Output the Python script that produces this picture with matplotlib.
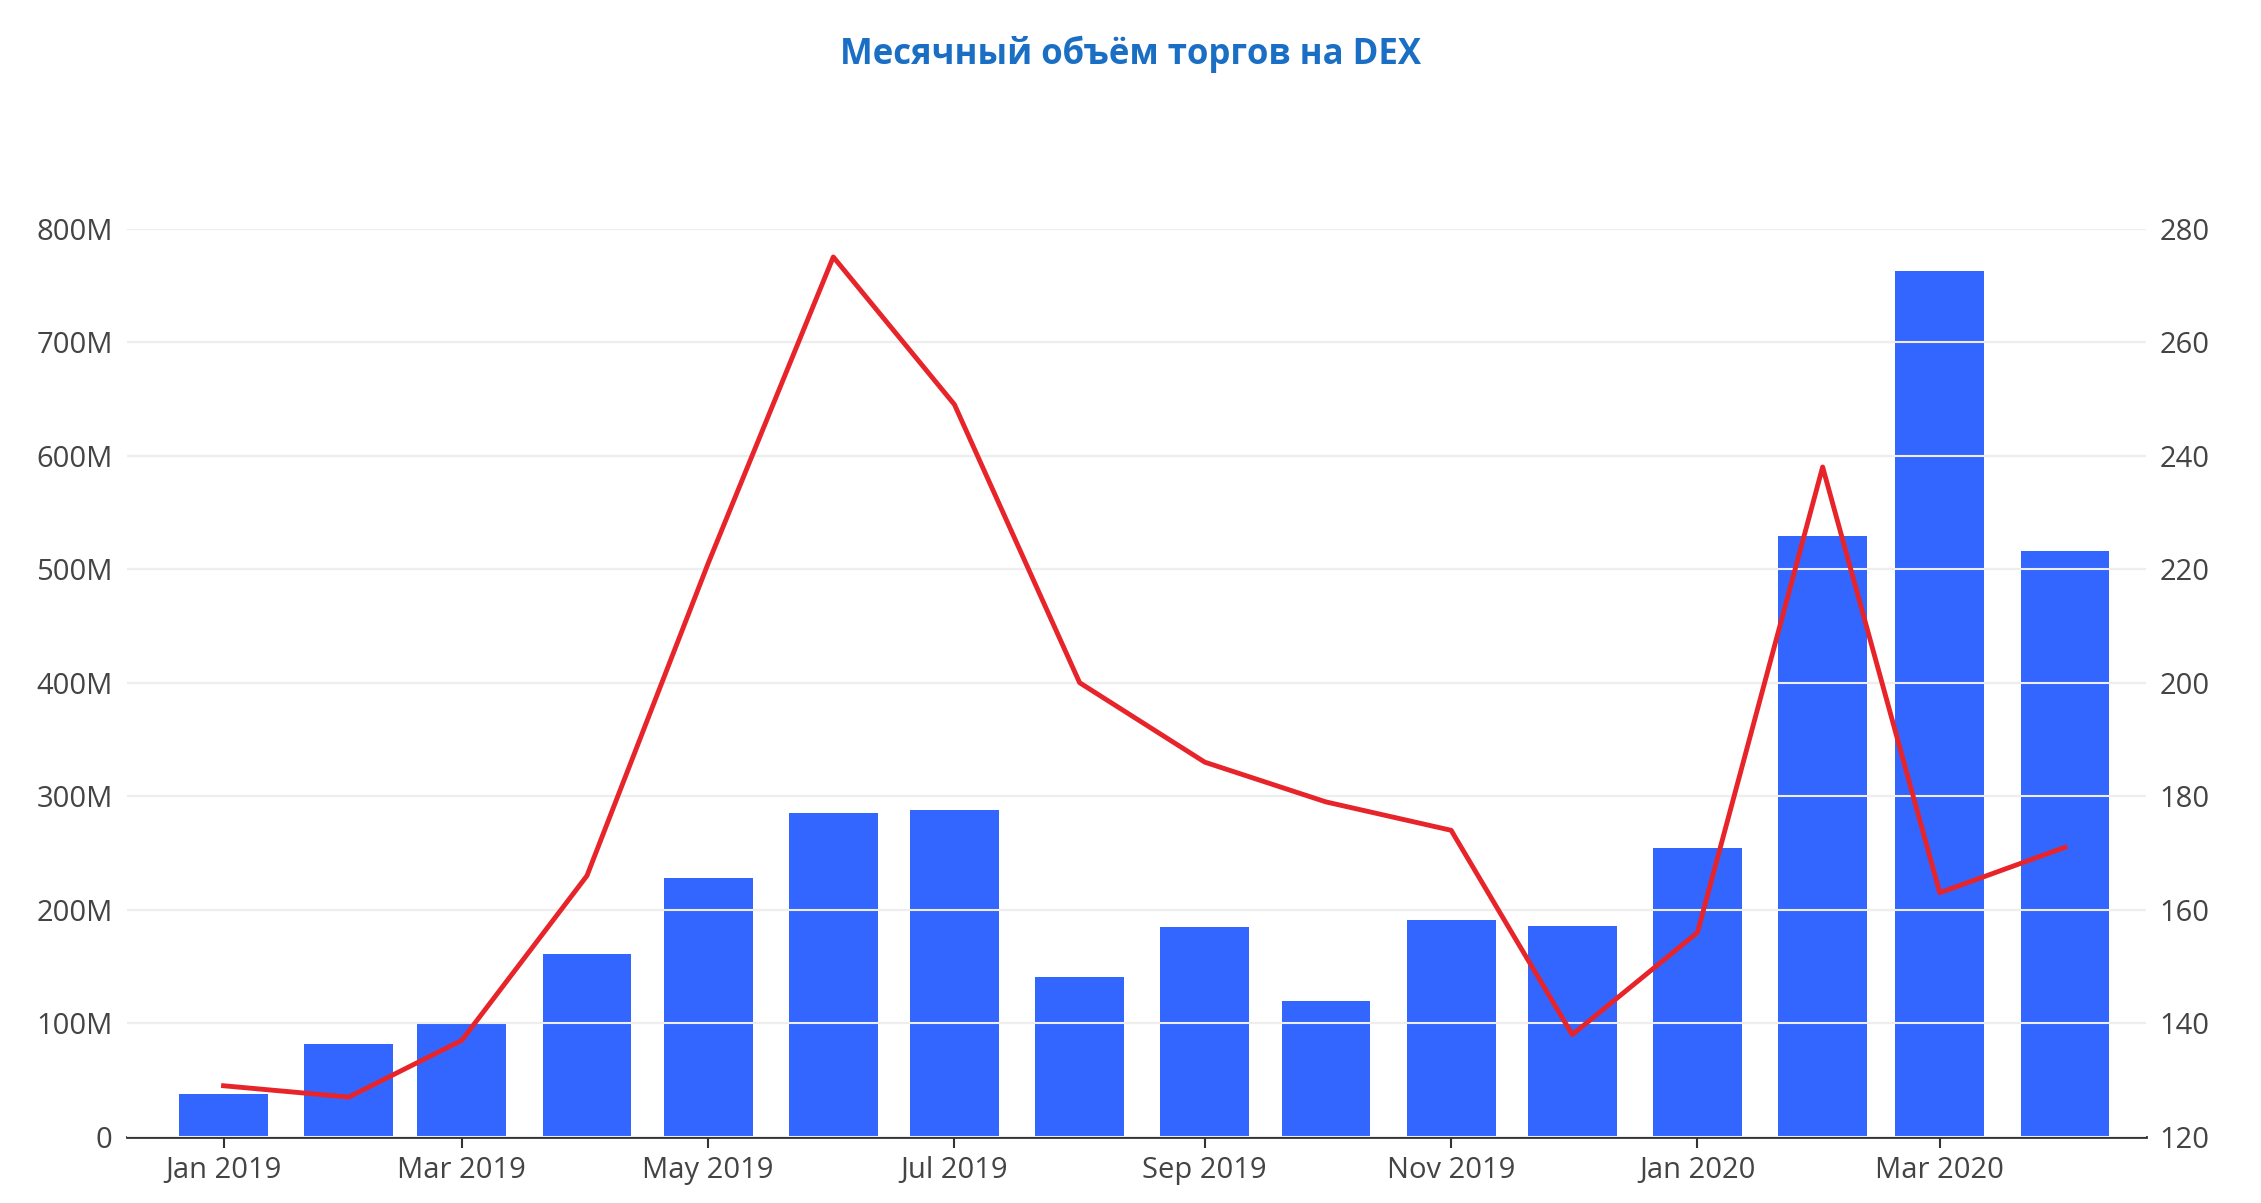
import matplotlib
matplotlib.use("Agg")
import matplotlib.pyplot as plt
import matplotlib.dates as mdates
import matplotlib.ticker as mticker
import pandas as pd

months = pd.date_range("2019-01-01", "2020-04-01", freq="MS")
volume_m = [38, 82, 100, 161, 228, 285, 288, 141, 185, 120, 191, 186, 254, 529, 763, 516]
right_series = [129, 127, 137, 166, 221, 275, 249, 200, 186, 179, 174, 138, 156, 238, 163, 171]
tick_months = pd.date_range("2019-01-01", "2020-03-01", freq="2MS")

plt.rcParams["font.family"] = ["Open Sans", "DejaVu Sans"]

fig = plt.figure(figsize=(22.61, 12.03), dpi=100)
ax = fig.add_axes([0.056, 0.055, 0.893, 0.755])
ax2 = ax.twinx()

ax.bar(months, [v * 1e6 for v in volume_m], width=22, color="#3366ff", zorder=2)
ax2.plot(months, right_series, color="#e8242b", lw=3.5, zorder=3)
ax2.set_zorder(ax.get_zorder() + 1)
ax2.patch.set_visible(False)

ax.set_ylim(0, 800e6)
ax2.set_ylim(120, 280)
ax.set_xlim(pd.Timestamp("2018-12-08"), pd.Timestamp("2020-04-21"))
ax.set_yticks([i * 100e6 for i in range(9)])
ax.yaxis.set_major_formatter(mticker.FuncFormatter(lambda v, p: "0" if v == 0 else f"{int(v/1e6)}M"))
ax2.set_yticks(range(120, 281, 20))
ax.set_xticks(tick_months)
ax.xaxis.set_major_formatter(mdates.DateFormatter("%b %Y"))

ax.grid(axis="y", color="#e6e6e6", lw=1.5, zorder=0)
for y in range(120, 281, 20):
    ax2.axhline(y, color="#eeeeee", lw=1.5, zorder=0)

for a in (ax, ax2):
    for s in a.spines.values():
        s.set_visible(False)
    a.tick_params(length=0, labelsize=21, colors="#444444", pad=10)
ax.spines["bottom"].set_visible(True)
ax.spines["bottom"].set_color("#333333")
ax.spines["bottom"].set_linewidth(2)
ax.tick_params(axis="x", length=8, color="#333333", width=1.5, pad=6)

fig.text(0.5, 0.955, "Месячный объём торгов на DEX", ha="center", va="center",
         fontsize=25, fontweight="bold", color="#1a6fc4")

fig.savefig("out.png", dpi=100)
